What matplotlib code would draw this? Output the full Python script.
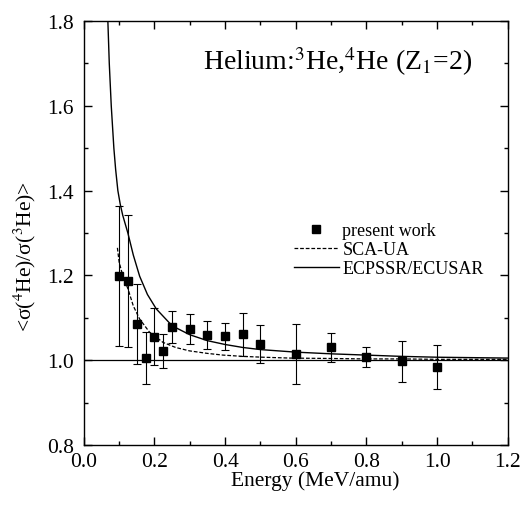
import matplotlib
matplotlib.use("Agg")
import matplotlib.pyplot as plt
from matplotlib.ticker import MultipleLocator

plt.rcParams['font.family'] = ['Liberation Serif', 'DejaVu Serif']
plt.rcParams['mathtext.fontset'] = 'stix'

# measured ratio (present work)
energy = [0.10, 0.125, 0.15, 0.175, 0.20, 0.225, 0.25, 0.30, 0.35, 0.40,
          0.45, 0.50, 0.60, 0.70, 0.80, 0.90, 1.00]
ratio = [1.199, 1.187, 1.085, 1.005, 1.055, 1.022, 1.078, 1.074, 1.059, 1.056,
         1.061, 1.038, 1.015, 1.030, 1.008, 0.997, 0.984]
ratio_err = [0.165, 0.155, 0.095, 0.061, 0.067, 0.040, 0.037, 0.035, 0.033, 0.031,
             0.050, 0.044, 0.071, 0.035, 0.024, 0.049, 0.052]

# SCA-UA (dashed)
sca_x = [0.095, 0.10, 0.11, 0.125, 0.14, 0.158, 0.186, 0.224, 0.26, 0.299,
         0.35, 0.394, 0.45, 0.507, 0.583, 0.70, 0.80, 0.90, 1.00, 1.10, 1.20]
sca_y = [1.265, 1.231, 1.200, 1.168, 1.128, 1.097, 1.066, 1.042, 1.030, 1.022,
         1.016, 1.012, 1.009, 1.007, 1.005, 1.004, 1.003, 1.003, 1.002, 1.002, 1.002]

# ECPSSR/ECUSAR (solid)
ecp_x = [0.068, 0.072, 0.0776, 0.085, 0.090, 0.0963, 0.103, 0.11, 0.1246, 0.14,
         0.158, 0.18, 0.205, 0.25, 0.30, 0.35, 0.40, 0.45, 0.50, 0.60, 0.70, 0.80,
         0.90, 1.00, 1.10, 1.20]
ecp_y = [1.800, 1.700, 1.600, 1.500, 1.450, 1.400, 1.368, 1.342, 1.300, 1.248,
         1.198, 1.155, 1.121, 1.081, 1.060, 1.046, 1.037, 1.030, 1.025, 1.019,
         1.015, 1.012, 1.009, 1.007, 1.006, 1.005]

fig = plt.figure(figsize=(5.24, 5.10), dpi=100)
ax = fig.add_axes([0.160, 0.1255, 0.809, 0.8314])

ax.axhline(1.0, color='black', lw=0.9)
ax.plot(sca_x, sca_y, '--', color='black', lw=0.9, dashes=(3, 1.5), label='SCA-UA')
ax.plot(ecp_x, ecp_y, '-', color='black', lw=1.0, label='ECPSSR/ECUSAR')
ax.errorbar(energy, ratio, yerr=ratio_err, fmt='none', ecolor='black',
            elinewidth=0.8, capsize=3, capthick=0.8)
ax.plot(energy, ratio, 's', color='black', ms=5.5, label='present work')

ax.set_xlim(0.0, 1.2)
ax.set_ylim(0.8, 1.8)
ax.xaxis.set_major_locator(MultipleLocator(0.2))
ax.xaxis.set_minor_locator(MultipleLocator(0.1))
ax.yaxis.set_major_locator(MultipleLocator(0.2))
ax.yaxis.set_minor_locator(MultipleLocator(0.1))
ax.xaxis.set_major_formatter(plt.FormatStrFormatter('%.1f'))
ax.yaxis.set_major_formatter(plt.FormatStrFormatter('%.1f'))
ax.tick_params(which='both', direction='in', top=True, right=True, width=1.0,
               labelsize=15.5)
ax.tick_params(which='major', length=6)
ax.tick_params(which='minor', length=3)
ax.tick_params(axis='y', pad=7)
ax.tick_params(axis='x', pad=5)
for s in ax.spines.values():
    s.set_linewidth(1.0)

h, l = ax.get_legend_handles_labels()
order = [2, 0, 1]
ax.legend([h[i] for i in order], [l[i] for i in order], frameon=False,
          loc='upper left', bbox_to_anchor=(0.495, 0.525), fontsize=13,
          handlelength=2.5, handletextpad=0.2, labelspacing=0.1,
          borderpad=0, borderaxespad=0, numpoints=1)

ax.text(0.281, 0.906, 'Helium:$^3$He,$^4$He (Z$_1$=2)', transform=ax.transAxes,
        ha='left', va='center', fontsize=20)

fig.text(315 / 524, 1 - 481 / 510, 'Energy (MeV/amu)', ha='center', va='center',
         fontsize=15.5)
fig.text(25 / 524, 1 - 257 / 510, '<σ($^4$He)/σ($^3$He)>', ha='center',
         va='center', rotation=90, fontsize=15.5)

fig.savefig('out.png', dpi=100)
